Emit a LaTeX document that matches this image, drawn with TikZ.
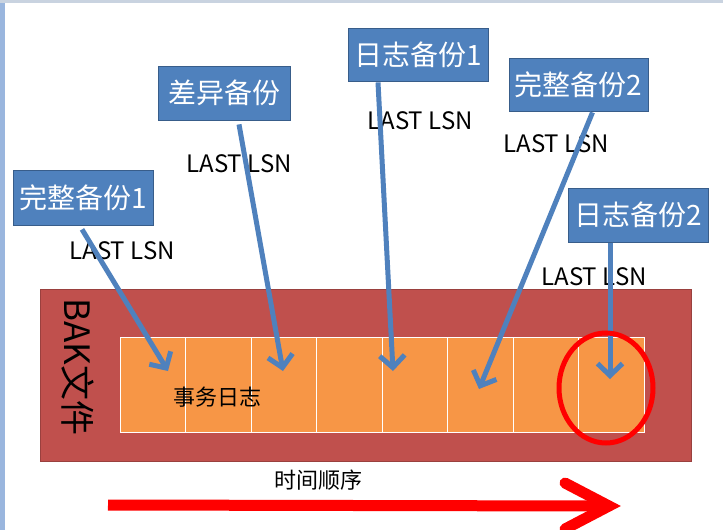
\documentclass[tikz,border=0pt]{standalone}
\usepackage{fontspec}
\setmainfont{Noto Sans CJK SC}
\usetikzlibrary{arrows.meta,calc,shapes.geometric}
\definecolor{offblue}{HTML}{4F81BD}
\definecolor{offblueb}{HTML}{385D8A}
\definecolor{offred}{HTML}{C0504D}
\definecolor{offorange}{HTML}{F79646}
\definecolor{pured}{HTML}{FF0000}
\definecolor{edgeblue}{HTML}{9AB6DE}
\definecolor{edgegray}{HTML}{C9D3E0}
\tikzset{
  bluebox/.style={rectangle, fill=offblue, draw=offblueb, line width=0.8pt, text=white,
    inner sep=0pt, font=\fontsize{28}{30}\selectfont, minimum width=#1},
  lsn/.style={inner sep=0pt, font=\fontsize{24}{28}\selectfont, text=black},
  bluearrow/.style={draw=offblue, line width=5pt, -{Straight Barb[length=12pt,width=25pt]}},
  cellbox/.style={rectangle, fill=offorange, draw=white, line width=0.9pt,
    minimum width=65.5pt, minimum height=95pt, inner sep=0pt},
  bakbox/.style={rectangle, fill=offred, draw=offred!80!black, line width=0.5pt,
    minimum width=651pt, minimum height=172pt, inner sep=0pt},
  cjklabel/.style={inner sep=0pt, font=\fontsize{22}{26}\selectfont, text=black},
  redline/.style={draw=pured, line width=11pt},
  ring/.style={ellipse, draw=pured, line width=5pt, minimum width=94pt, minimum height=110pt, inner sep=0pt}
}
\begin{document}
\begin{tikzpicture}[x=1pt,y=-1pt]
\useasboundingbox (0,0) rectangle (723,530);
\fill[white] (0,0) rectangle (723,530);
\fill[edgeblue] (0,0) rectangle (5,530);
\fill[edgegray] (0,0) rectangle (723,2.5);

% BAK file
\node[bakbox] (bak) at (365.5,375) {};
\foreach \i in {1,...,8} {
  \node[cellbox] (c\i) at ({120+65.5*(\i-0.5)},384.5) {};
}
\node[cjklabel] (tlog) at (217,397) {事务日志};
\node[inner sep=0pt, font=\fontsize{35}{38}\selectfont, rotate=-90] (bakt) at (78,367) {BAK文件};

% backup boxes
\node[bluebox=140pt, minimum height=55pt] (fb1) at (83,197.5) {完整备份1};
\node[bluebox=132pt, minimum height=54pt] (diff) at (224,93) {差异备份};
\node[bluebox=140pt, minimum height=53pt] (log1) at (418,54.5) {日志备份1};
\node[bluebox=139pt, minimum height=53pt] (fb2) at (578.5,84.5) {完整备份2};
\node[bluebox=140pt, minimum height=54pt] (log2) at (638,215) {日志备份2};

% LAST LSN labels
\node[lsn] (l1) at (122,251) {LAST LSN};
\node[lsn] (l2) at (239,164) {LAST LSN};
\node[lsn] (l3) at (420,121) {LAST LSN};
\node[lsn] (l4) at (556,144) {LAST LSN};
\node[lsn] (l5) at (594,277) {LAST LSN};

% arrow tips
\coordinate (t1) at (168,371);
\coordinate (t2) at (283,371);
\coordinate (t3) at (393,371);
\coordinate (t4) at (479,389);
\coordinate (t5) at (610,379);

\draw[bluearrow] ($(fb1.south)+(-1,4)$) -- (t1);
\draw[bluearrow] ($(diff.south)+(15,4)$) -- (t2);
\draw[bluearrow] ($(log1.south)+(-40,1)$) -- (t3);
\draw[bluearrow] ($(fb2.south)+(14,1)$) -- (t4);
\draw[bluearrow] ($(log2.south)+(-28,1)$) -- (t5);

% red ring
\node[ring] (ring) at (606,388) {};

% time order
\node[cjklabel] (time) at (318,480) {时间顺序};
\coordinate (a0) at (108,505);
\coordinate (a1) at (604,506);
\coordinate (tip) at (609,506);
\draw[redline] (a0) -- (a1);
\draw[redline, line cap=round, miter limit=10] ($(tip)+(-44,-23)$) -- (tip) -- ($(tip)+(-44,23)$);
\end{tikzpicture}
\end{document}
